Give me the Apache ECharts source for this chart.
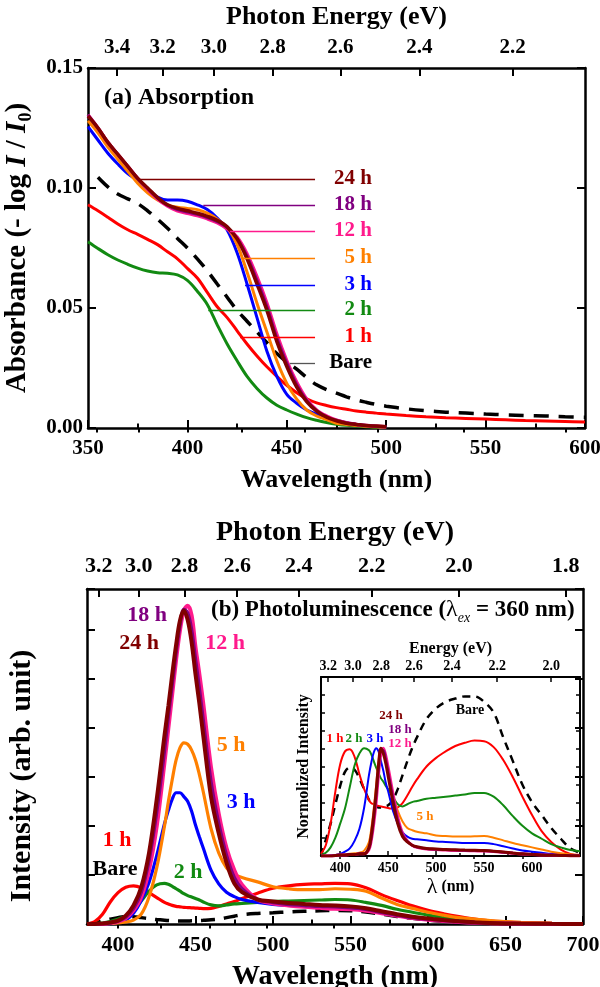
<!DOCTYPE html>
<html><head><meta charset="utf-8">
<script src="https://cdn.jsdelivr.net/npm/echarts@6/dist/echarts.min.js"></script>
<style>html,body{margin:0;padding:0;background:#fff}#c{width:600px;height:987px}</style>
</head><body><div id="c"></div>
<script>
// ---------- (a) Absorption data ----------
const absWl = [350,355,360,365,370,375,380,385,390,395,400,405,410,415,420,425,430,435,440,445,450,455,460,465,470,475,480,485,490,495,500];
const absWlTail = [510,520,530,540,550,560,570,580,590,600];
const absBare = [null,0.1045,0.1005,0.0975,0.0955,0.0935,0.0905,0.087,0.0832,0.079,0.075,0.0705,0.0655,0.060,0.0545,0.049,0.0445,0.040,0.0355,0.031,0.0275,0.0245,0.021,0.018,0.016,0.0145,0.013,0.0117,0.0107,0.0098,0.0091,
  0.008,0.0072,0.0066,0.0062,0.0058,0.0055,0.0052,0.005,0.0047,0.0045];
const abs1h = [0.093,0.0905,0.0878,0.085,0.0826,0.0807,0.0786,0.0764,0.0734,0.0705,0.0665,0.0625,0.0565,0.0505,0.046,0.0405,0.035,0.030,0.0255,0.0215,0.0178,0.0147,0.0122,0.0105,0.0094,0.0085,0.0078,0.0071,0.0066,0.0062,0.0058,
  0.0052,0.0047,0.0043,0.004,0.0037,0.0034,0.0031,0.0029,0.0027,0.0025];
const abs2h = [0.0776,0.0748,0.0722,0.070,0.0682,0.0666,0.0654,0.0647,0.0645,0.0638,0.0615,0.057,0.0515,0.043,0.035,0.028,0.0215,0.0165,0.0125,0.0095,0.0075,0.0058,0.0043,0.0032,0.0023,0.0016,0.0011,0.0008,0.0005,0.0003,0.0002];
const abs3h = [0.1256,0.120,0.1145,0.110,0.106,0.103,0.0995,0.0962,0.095,0.095,0.0945,0.093,0.091,0.0875,0.0825,0.073,0.060,0.046,0.032,0.0215,0.014,0.0103,0.0075,0.0058,0.0045,0.0032,0.0022,0.0015,0.001,0.0006,0.0004];
const abs5h = [0.128,0.123,0.117,0.112,0.107,0.102,0.098,0.095,0.093,0.092,0.0915,0.091,0.0895,0.087,0.0835,0.0765,0.065,0.052,0.040,0.028,0.0186,0.012,0.0075,0.005,0.0035,0.002,0.0015,0.001,0.0007,0.0005,0.0003];
const abs12h = [0.1305,0.125,0.119,0.114,0.109,0.104,0.0995,0.0955,0.0925,0.0905,0.0895,0.0885,0.0872,0.0855,0.083,0.0795,0.0725,0.063,0.052,0.039,0.028,0.019,0.012,0.0075,0.005,0.0033,0.0022,0.0015,0.001,0.0007,0.0005];
const abs18h = [0.1305,0.125,0.119,0.114,0.109,0.104,0.0998,0.0958,0.0928,0.091,0.090,0.089,0.0877,0.086,0.0835,0.079,0.0715,0.0615,0.0505,0.0375,0.027,0.018,0.0115,0.0072,0.0047,0.0031,0.0021,0.0015,0.001,0.0007,0.0005];
const abs24h = [0.130,0.125,0.119,0.114,0.109,0.104,0.100,0.096,0.093,0.0915,0.0905,0.0895,0.0882,0.0865,0.0838,0.0788,0.0705,0.060,0.049,0.036,0.0256,0.017,0.011,0.007,0.0045,0.003,0.002,0.0015,0.001,0.0008,0.0005];

// leader lines of panel (a): [x start (nm), x end (nm), absorbance]
const leadBare = [451.6, 464.2, 0.027];
const lead1h = [426.5, 464.2, 0.038];
const lead2h = [410.5, 464.2, 0.0492];
const lead3h = [429, 464.2, 0.0596];
const lead5h = [427.3, 464.2, 0.0707];
const lead12h = [421.4, 464.2, 0.0821];
const lead18h = [408, 464.2, 0.0929];
const lead24h = [376, 464.2, 0.1036];

// ---------- (b) PL data ----------
const plWl = [380,385,390,395,400,405,410,415,420,425,430,432.5,435,437.5,440,442.5,445,447.5,450,452.5,455,460,465,470,475,480,490,500,510,520,530,540,550,560,570,580,590,600,610,620,630,640,650,660,680,700];
const plBare = [0,0.02,0.06,0.1,0.13,0.15,0.15,0.13,0.11,0.09,0.075,0.07,0.065,0.062,0.06,0.06,0.062,0.065,0.068,0.071,0.075,0.085,0.1,0.13,0.16,0.19,0.215,0.23,0.245,0.26,0.27,0.275,0.27,0.245,0.2,0.155,0.115,0.08,0.055,0.035,0.02,0.012,0.007,0.004,0.001,0];
const pl1h = [0,0.05,0.2,0.45,0.64,0.75,0.78,0.74,0.64,0.54,0.44,0.41,0.38,0.36,0.35,0.34,0.335,0.33,0.325,0.32,0.315,0.32,0.36,0.41,0.46,0.52,0.63,0.73,0.78,0.81,0.82,0.83,0.82,0.74,0.6,0.48,0.37,0.28,0.21,0.15,0.1,0.065,0.045,0.03,0.012,0.005];
const pl2h = [0,0.01,0.02,0.05,0.1,0.16,0.28,0.47,0.67,0.8,0.83,0.81,0.77,0.72,0.67,0.62,0.58,0.55,0.52,0.49,0.45,0.39,0.37,0.39,0.41,0.42,0.44,0.46,0.47,0.48,0.49,0.5,0.49,0.44,0.38,0.3,0.24,0.18,0.13,0.09,0.065,0.045,0.03,0.02,0.008,0.003];
const pl3h = [0,0,0,0.01,0.03,0.08,0.22,0.48,0.85,1.4,2.05,2.32,2.55,2.68,2.68,2.6,2.5,2.3,2.02,1.78,1.55,1.1,0.82,0.65,0.56,0.5,0.44,0.4,0.38,0.37,0.36,0.35,0.34,0.31,0.25,0.19,0.14,0.1,0.07,0.045,0.03,0.018,0.01,0.006,0.002,0];
const pl5h = [0,0,0,0.01,0.02,0.04,0.08,0.2,0.55,1.15,2.0,2.5,2.95,3.35,3.6,3.7,3.67,3.55,3.35,3.05,2.7,1.95,1.45,1.15,1.02,0.95,0.86,0.76,0.72,0.7,0.7,0.72,0.71,0.67,0.53,0.4,0.32,0.24,0.18,0.13,0.1,0.07,0.05,0.035,0.015,0.005];
const pl12h = [0,0,0,0.02,0.05,0.12,0.28,0.55,1.1,2.0,3.3,4.0,4.7,5.4,6.0,6.4,6.5,6.3,5.65,5.1,4.5,3.2,2.25,1.55,1.1,0.8,0.5,0.42,0.38,0.35,0.33,0.31,0.3,0.27,0.22,0.17,0.12,0.085,0.06,0.04,0.025,0.015,0.01,0.006,0.002,0];
const pl18h = [0,0,0.005,0.025,0.06,0.14,0.32,0.65,1.3,2.3,3.55,4.25,4.9,5.55,6.1,6.42,6.35,6.0,5.4,4.8,4.15,2.9,2.05,1.4,0.95,0.72,0.5,0.44,0.4,0.38,0.36,0.35,0.33,0.3,0.24,0.18,0.13,0.1,0.07,0.05,0.03,0.018,0.01,0.007,0.002,0];
const pl24h = [0,0,0.01,0.03,0.07,0.17,0.38,0.75,1.45,2.55,3.85,4.45,5.1,5.7,6.2,6.4,6.2,5.75,5.1,4.5,3.85,2.6,1.85,1.25,0.83,0.65,0.5,0.46,0.43,0.41,0.39,0.38,0.36,0.32,0.26,0.2,0.15,0.11,0.08,0.055,0.035,0.02,0.012,0.008,0.003,0];

// ---------- inset: normalized PL ----------
const inWl = [380,385,390,395,400,405,410,415,420,425,430,432.5,435,437.5,440,442.5,445,447.5,450,452.5,455,460,465,470,475,480,490,500,510,520,530,540,550,560,570,580,590,600,610,620,630,640,650];
const inBare = [0,0.15,0.3,0.48,0.65,0.78,0.82,0.8,0.72,0.62,0.52,0.49,0.47,0.46,0.45,0.45,0.45,0.46,0.47,0.49,0.52,0.62,0.75,0.88,1.0,1.1,1.27,1.37,1.43,1.46,1.48,1.48,1.43,1.33,1.1,0.88,0.66,0.5,0.38,0.26,0.16,0.07,0.03];
const in1h = [0.02,0.1,0.3,0.6,0.85,0.97,0.99,0.92,0.76,0.62,0.52,0.49,0.48,0.47,0.465,0.46,0.455,0.45,0.445,0.44,0.44,0.45,0.49,0.56,0.64,0.71,0.83,0.91,0.97,1.02,1.05,1.07,1.065,1.01,0.89,0.73,0.55,0.38,0.23,0.13,0.06,0.02,0.01];
const in2h = [0.01,0.03,0.08,0.17,0.3,0.44,0.64,0.84,0.95,1.0,0.98,0.94,0.88,0.82,0.77,0.72,0.69,0.65,0.62,0.58,0.55,0.48,0.46,0.48,0.5,0.51,0.53,0.54,0.55,0.56,0.57,0.585,0.585,0.55,0.47,0.37,0.28,0.21,0.16,0.11,0.08,0.055,0.045];
const in3h = [0,0,0.005,0.01,0.02,0.04,0.07,0.14,0.25,0.45,0.75,0.87,0.96,1.0,0.97,0.88,0.79,0.68,0.6,0.51,0.42,0.3,0.22,0.18,0.16,0.155,0.145,0.135,0.13,0.125,0.12,0.12,0.12,0.11,0.09,0.07,0.05,0.04,0.03,0.02,0.015,0.01,0.008];
const in5h = [0,0,0,0.005,0.01,0.015,0.02,0.025,0.03,0.05,0.13,0.26,0.44,0.66,0.88,1.0,0.96,0.88,0.77,0.66,0.56,0.42,0.32,0.26,0.24,0.225,0.21,0.19,0.185,0.18,0.18,0.183,0.185,0.17,0.145,0.12,0.1,0.08,0.06,0.04,0.025,0.015,0.01];
const in12h = [0,0,0,0.005,0.01,0.01,0.015,0.015,0.02,0.02,0.06,0.15,0.3,0.5,0.76,0.95,1.0,0.93,0.82,0.7,0.58,0.36,0.21,0.14,0.1,0.08,0.065,0.06,0.055,0.052,0.05,0.048,0.046,0.042,0.034,0.026,0.019,0.014,0.01,0.007,0.005,0.003,0.002];
const in18h = [0,0,0,0.005,0.01,0.01,0.015,0.015,0.02,0.02,0.07,0.17,0.34,0.55,0.8,0.98,0.98,0.9,0.78,0.66,0.54,0.33,0.2,0.135,0.1,0.082,0.068,0.062,0.058,0.055,0.052,0.05,0.048,0.043,0.035,0.027,0.02,0.015,0.01,0.007,0.005,0.003,0.002];
const in24h = [0,0,0,0.005,0.01,0.01,0.015,0.015,0.02,0.02,0.08,0.2,0.38,0.6,0.85,1.0,0.95,0.86,0.74,0.62,0.5,0.3,0.18,0.13,0.1,0.085,0.07,0.065,0.06,0.058,0.055,0.053,0.05,0.045,0.037,0.028,0.02,0.015,0.01,0.007,0.005,0.003,0.002];

// ---------- ticks ----------
const energyTicksA = [3.4,3.2,3.0,2.8,2.6,2.4,2.2];
const energyMinorA = [3.5,3.3,3.1,2.9,2.7,2.5,2.3,2.1];
const energyTicksB = [3.2,3.0,2.8,2.6,2.4,2.2,2.0,1.8];
const energyMinorB = [3.1,2.9,2.7,2.5,2.3,2.1,1.9];
const energyTicksIn = [3.2,3.0,2.8,2.6,2.4,2.2,2.0];
const energyMinorIn = [3.1,2.9,2.7,2.5,2.3,2.1];
const wlTicksB = [400,450,500,550,600,650,700];
const wlMinorB = [425,475,525,575,625,675];
const wlTicksIn = [400,450,500,550,600];
const wlMinorIn = [425,475,525,575,625];

const C = {bare:'#000000', h1:'#ff0000', h2:'#128a12', h3:'#0000ff', h5:'#ff8000', h12:'#ff1a8c', h18:'#800080', h24:'#800000'};
const FONT = '"Liberation Serif","Times New Roman",serif';
const zip = (xs, ys) => xs.map((x, i) => [x, ys[i]]);
const toWl = e => 1240 / e;

function axLine(w){ return {show:true, onZero:false, lineStyle:{color:'#000', width:w}}; }
function tick(len, w, custom){ const t = {show:true, inside:true, length:len, lineStyle:{color:'#000', width:w}}; if (custom) t.customValues = custom; return t; }
function lab(size, margin, extra){ return Object.assign({show:true, color:'#000', fontFamily:FONT, fontWeight:'bold', fontSize:size, margin:margin}, extra||{}); }
function nameStyle(size, extra){ return Object.assign({color:'#000', fontFamily:FONT, fontWeight:'bold', fontSize:size}, extra||{}); }
const noSplit = {show:false};

const xAxis = [
  // 0: (a) bottom wavelength
  {gridIndex:0, type:'value', position:'bottom', min:350, max:600, interval:50, axisLine:axLine(2.5), axisTick:tick(8,2),
   minorTick:{show:true, splitNumber:2, length:4.5, lineStyle:{color:'#000', width:2}}, minorSplitLine:noSplit, splitLine:noSplit,
   axisLabel:lab(21,10), name:'Wavelength (nm)', nameLocation:'middle', nameGap:39, nameTextStyle:nameStyle(26)},
  // 1: (a) top energy major
  {gridIndex:0, type:'value', position:'top', min:350, max:600, axisLine:axLine(2.5), axisTick:tick(8,2,energyTicksA.map(toWl)), splitLine:noSplit,
   axisLabel:lab(21,10,{customValues:energyTicksA.map(toWl), formatter:v => (1240/v).toFixed(1)}),
   name:'Photon Energy (eV)', nameLocation:'middle', nameGap:38, nameTextStyle:nameStyle(26)},
  // 2: (a) top energy minor
  {gridIndex:0, type:'value', position:'top', min:350, max:600, axisLine:{show:false}, axisTick:tick(4.5,2,energyMinorA.map(toWl)), axisLabel:{show:false}, splitLine:noSplit},
  // 3: (b) bottom wavelength
  {gridIndex:1, type:'value', position:'bottom', min:380, max:700, axisLine:axLine(2.5), axisTick:tick(8,2,wlTicksB), splitLine:noSplit,
   axisLabel:lab(22,10,{customValues:wlTicksB}), name:'Wavelength (nm)', nameLocation:'middle', nameGap:39, nameTextStyle:nameStyle(28)},
  // 4: (b) bottom minor
  {gridIndex:1, type:'value', position:'bottom', min:380, max:700, axisLine:{show:false}, axisTick:tick(4.5,2,wlMinorB), axisLabel:{show:false}, splitLine:noSplit},
  // 5: (b) top energy major
  {gridIndex:1, type:'value', position:'top', min:380, max:700, axisLine:axLine(2.5), axisTick:tick(8,2,energyTicksB.map(toWl)), splitLine:noSplit,
   axisLabel:lab(22,12,{customValues:energyTicksB.map(toWl), formatter:v => (1240/v).toFixed(1)}),
   name:'Photon Energy (eV)', nameLocation:'middle', nameGap:42, nameTextStyle:nameStyle(28)},
  // 6: (b) top energy minor
  {gridIndex:1, type:'value', position:'top', min:380, max:700, axisLine:{show:false}, axisTick:tick(4.5,2,energyMinorB.map(toWl)), axisLabel:{show:false}, splitLine:noSplit},
  // 7: inset bottom
  {gridIndex:2, type:'value', position:'bottom', min:380, max:650, axisLine:axLine(2), axisTick:tick(5,1.5,wlTicksIn), splitLine:noSplit,
   axisLabel:lab(14,5,{customValues:wlTicksIn}),
   name:'{l|λ} (nm)', nameLocation:'middle', nameGap:18, nameTextStyle:nameStyle(16,{rich:{l:{fontFamily:FONT, fontWeight:'normal', fontSize:22, color:'#000'}}})},
  // 8: inset bottom minor
  {gridIndex:2, type:'value', position:'bottom', min:380, max:650, axisLine:{show:false}, axisTick:tick(3,1.5,wlMinorIn), axisLabel:{show:false}, splitLine:noSplit},
  // 9: inset top energy
  {gridIndex:2, type:'value', position:'top', min:380, max:650, axisLine:axLine(2), axisTick:tick(5,1.5,energyTicksIn.map(toWl)), splitLine:noSplit,
   axisLabel:lab(14,4,{customValues:energyTicksIn.map(toWl), formatter:v => (1240/v).toFixed(1)}),
   name:'Energy (eV)', nameLocation:'middle', nameGap:20, nameTextStyle:nameStyle(16)},
  // 10: inset top minor
  {gridIndex:2, type:'value', position:'top', min:380, max:650, axisLine:{show:false}, axisTick:tick(3,1.5,energyMinorIn.map(toWl)), axisLabel:{show:false}, splitLine:noSplit}
];

const yAxis = [
  // 0: (a) left
  {gridIndex:0, type:'value', position:'left', min:0, max:0.15, interval:0.05, axisLine:axLine(2.5), axisTick:tick(8,2), splitLine:noSplit,
   axisLabel:lab(21,5,{formatter:v => v.toFixed(2)}),
   name:'Absorbance (- log {i|I} / {i|I}{s|0})', nameLocation:'middle', nameGap:52,
   nameTextStyle:nameStyle(29,{lineHeight:36, rich:{i:{fontFamily:FONT, fontWeight:'bold', fontStyle:'italic', fontSize:29, color:'#000'}, s:{fontFamily:FONT, fontWeight:'bold', fontSize:18, lineHeight:18, verticalAlign:'bottom', color:'#000'}}})},
  // 1: (a) right
  {gridIndex:0, type:'value', position:'right', min:0, max:0.15, interval:0.05, axisLine:axLine(2.5), axisTick:tick(8,2), axisLabel:{show:false}, splitLine:noSplit},
  // 2: (b) left (title drawn as rotated text below)
  {gridIndex:1, type:'value', position:'left', min:0, max:6.84, interval:1, axisLine:axLine(2.5), axisTick:tick(8,2), axisLabel:{show:false}, splitLine:noSplit},
  // 3: (b) right
  {gridIndex:1, type:'value', position:'right', min:0, max:6.84, interval:1, axisLine:axLine(2.5), axisTick:tick(8,2), axisLabel:{show:false}, splitLine:noSplit},
  // 4: inset left
  {gridIndex:2, type:'value', position:'left', min:0, max:1.66, interval:0.166, axisLine:axLine(2), axisTick:tick(4,1.5), axisLabel:{show:false}, splitLine:noSplit,
   name:'Normolized Intensity', nameLocation:'middle', nameGap:9, nameTextStyle:nameStyle(16)},
  // 5: inset right
  {gridIndex:2, type:'value', position:'right', min:0, max:1.66, interval:0.166, axisLine:axLine(2), axisTick:tick(4,1.5), axisLabel:{show:false}, splitLine:noSplit}
];

function line(name, data, color, xi, yi, width, extra){
  return Object.assign({type:'line', name:name, data:data, xAxisIndex:xi, yAxisIndex:yi, symbol:'none', showSymbol:false,
    smooth:0.35, lineStyle:{color:color, width:width}, itemStyle:{color:color}, silent:true, animation:false}, extra||{});
}
function leader(l, color){
  return {silent:true, symbol:['none','none'], label:{show:false}, animation:false,
    lineStyle:{color:color, width:1.3, type:'solid'}, data:[[{coord:[l[0], l[2]]},{coord:[l[1], l[2]]}]]};
}
const absWlLong = absWl.concat(absWlTail);

const series = [
  line('Bare (a)', zip(absWlLong, absBare), C.bare, 0, 0, 3.5, {lineStyle:{color:C.bare, width:3.5, type:[15,10]}, markLine:leader(leadBare,'#555')}),
  line('1 h (a)', zip(absWlLong, abs1h), C.h1, 0, 0, 3, {markLine:leader(lead1h, C.h1)}),
  line('2 h (a)', zip(absWl, abs2h), C.h2, 0, 0, 3, {markLine:leader(lead2h, C.h2)}),
  line('3 h (a)', zip(absWl, abs3h), C.h3, 0, 0, 3, {markLine:leader(lead3h, C.h3)}),
  line('5 h (a)', zip(absWl, abs5h), C.h5, 0, 0, 3, {markLine:leader(lead5h, C.h5)}),
  line('12 h (a)', zip(absWl, abs12h), C.h12, 0, 0, 3.5, {markLine:leader(lead12h, C.h12)}),
  line('18 h (a)', zip(absWl, abs18h), C.h18, 0, 0, 3, {markLine:leader(lead18h, C.h18)}),
  line('24 h (a)', zip(absWl, abs24h), C.h24, 0, 0, 3.5, {markLine:leader(lead24h, C.h24)}),

  line('Bare (b)', zip(plWl, plBare), C.bare, 3, 2, 3.5, {lineStyle:{color:C.bare, width:3.5, type:[14,9]}}),
  line('1 h (b)', zip(plWl, pl1h), C.h1, 3, 2, 3.2),
  line('2 h (b)', zip(plWl, pl2h), C.h2, 3, 2, 3.2),
  line('3 h (b)', zip(plWl, pl3h), C.h3, 3, 2, 3.2),
  line('5 h (b)', zip(plWl, pl5h), C.h5, 3, 2, 3.2),
  line('12 h (b)', zip(plWl, pl12h), C.h12, 3, 2, 4),
  line('18 h (b)', zip(plWl, pl18h), C.h18, 3, 2, 3.5),
  line('24 h (b)', zip(plWl, pl24h), C.h24, 3, 2, 4),

  line('Bare (in)', zip(inWl, inBare), C.bare, 7, 4, 2.5, {lineStyle:{color:C.bare, width:2.5, type:[8,6]}}),
  line('1 h (in)', zip(inWl, in1h), C.h1, 7, 4, 2),
  line('2 h (in)', zip(inWl, in2h), C.h2, 7, 4, 2),
  line('3 h (in)', zip(inWl, in3h), C.h3, 7, 4, 2),
  line('5 h (in)', zip(inWl, in5h), C.h5, 7, 4, 2),
  line('12 h (in)', zip(inWl, in12h), C.h12, 7, 4, 3),
  line('18 h (in)', zip(inWl, in18h), C.h18, 7, 4, 2.5),
  line('24 h (in)', zip(inWl, in24h), C.h24, 7, 4, 3)
];

function T(text, x, y, size, color, align, extra, rotation){
  const el = {type:'text', x:x, y:y, silent:true, z:100,
    style:Object.assign({text:text, fill:color||'#000', fontFamily:FONT, fontWeight:'bold', fontSize:size, align:align||'center', verticalAlign:'middle'}, extra||{})};
  if (rotation) el.rotation = rotation;
  return el;
}
const graphic = [
  T('(a) Absorption', 104, 98, 24, '#000', 'left'),
  T('24 h', 372, 179, 21, C.h24, 'right'),
  T('18 h', 372, 205, 21, C.h18, 'right'),
  T('12 h', 372, 231, 21, C.h12, 'right'),
  T('5 h', 372, 258, 21, C.h5, 'right'),
  T('3 h', 372, 285, 21, C.h3, 'right'),
  T('2 h', 372, 310, 21, C.h2, 'right'),
  T('1 h', 372, 337, 21, C.h1, 'right'),
  T('Bare', 372, 363, 21, '#000', 'right'),

  T('Intensity (arb. unit)', 22, 776, 30, '#000', 'center', null, Math.PI / 2),
  T('(b) Photoluminescence ({l|λ}{s|ex} = 360 nm)', 211, 610, 23, '#000', 'left',
    {lineHeight:30, rich:{l:{fontFamily:FONT, fontWeight:'normal', fontSize:24, fill:'#000'}, s:{fontFamily:FONT, fontWeight:'normal', fontStyle:'italic', fontSize:14, lineHeight:14, verticalAlign:'bottom', fill:'#000'}}}),
  T('18 h', 147, 615, 22, C.h18),
  T('24 h', 139, 643, 22, C.h24),
  T('12 h', 225, 643, 22, C.h12),
  T('5 h', 231, 745, 22, C.h5),
  T('3 h', 241, 802, 22, C.h3),
  T('1 h', 117, 840, 22, C.h1),
  T('Bare', 115, 869, 22, '#000'),
  T('2 h', 188, 872, 22, C.h2),

  T('24 h', 391, 716, 13, C.h24),
  T('18 h', 400, 730, 13, C.h18),
  T('12 h', 400, 744, 13, C.h12),
  T('1 h', 335, 739, 13, C.h1),
  T('2 h', 354, 739, 13, C.h2),
  T('3 h', 375, 739, 13, C.h3),
  T('5 h', 425, 817, 13, C.h5),
  T('Bare', 470, 710, 14, '#000')
];

const chart = echarts.init(document.getElementById('c'), null, {renderer:'canvas'});
chart.setOption({
  animation:false,
  backgroundColor:'#fff',
  grid:[
    {left:88, top:68, width:497, height:360, outerBoundsMode:'none', containLabel:false},
    {left:87, top:589, width:496, height:335, outerBoundsMode:'none', containLabel:false},
    {left:321, top:677, width:259, height:179, outerBoundsMode:'none', containLabel:false}
  ],
  xAxis:xAxis,
  yAxis:yAxis,
  series:series,
  graphic:graphic
});
</script></body></html>
